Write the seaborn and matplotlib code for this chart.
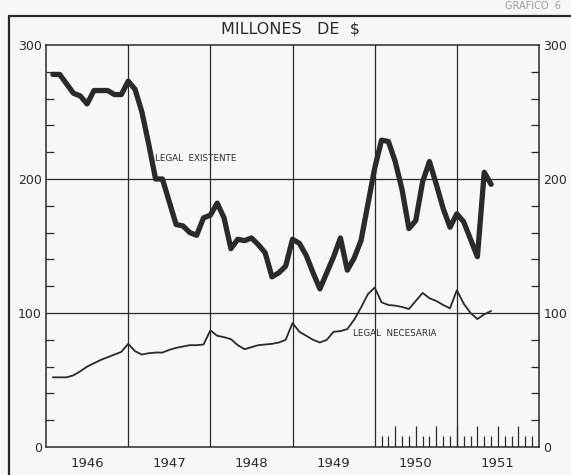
import numpy as np
import pandas as pd
import matplotlib
matplotlib.use('Agg')
import matplotlib.pyplot as plt
import seaborn as sns
from matplotlib.lines import Line2D

# monthly values, millions of $ (first point = Jan 1946)
existente = [278, 278, 271, 264, 262, 256, 266, 266, 266, 263, 263, 273,
             267, 250, 226, 200, 200, 183, 166, 165, 160, 158, 171, 173,
             182, 171, 148, 155, 154, 156, 151, 145, 127, 130, 135, 155,
             152, 143, 130, 118, 130, 142, 156, 132, 141, 154, 181, 208,
             229, 228, 213, 192, 163, 169, 198, 213, 196, 178, 164, 174,
             168, 155, 142, 205, 196]
necesaria = [52, 52, 52, 53.5, 56.5, 60, 62.5, 65, 67, 69, 71, 77,
             71.5, 69, 70, 70.5, 70.5, 72.5, 74, 75, 76, 76, 76.5, 87,
             83, 82, 80.5, 76, 73, 74.5, 76, 76.5, 77, 78, 80, 92.5,
             86, 83, 80, 78, 80, 86, 86.5, 88, 95, 104, 114, 119,
             108, 106, 105.5, 104.5, 103, 109, 115, 111, 109, 106, 103.5, 117,
             107, 100, 95.5, 99, 101.5]
years = [1946, 1947, 1948, 1949, 1950, 1951]
y_ticks = [0, 100, 200, 300]

ink = '#2a2a2a'
paper = '#f7f7f4'

sns.set_theme(style='white')
plt.rcParams['font.family'] = ['DejaVu Sans']

months = np.arange(1, len(existente) + 1)
df = pd.DataFrame({'t': years[0] + months / 12.0,
                   'existente': existente,
                   'necesaria': necesaria})

fig = plt.figure(figsize=(5.71, 4.75), dpi=100, facecolor=paper)
ax = fig.add_axes([0.0806, 0.0589, 0.8634, 0.8464])
ax.set_facecolor(paper)

# year boundaries and the 100 / 200 lines
for yr in years[1:]:
    ax.axvline(yr, color=ink, lw=0.9, zorder=1)
for v in y_ticks[1:-1]:
    ax.axhline(v, color=ink, lw=0.9, zorder=1)

sns.lineplot(x='t', y='existente', data=df, color=ink, lw=3.8, ax=ax, zorder=3,
             solid_joinstyle='round', solid_capstyle='round')
sns.lineplot(x='t', y='necesaria', data=df, color=ink, lw=1.3, ax=ax, zorder=3)

ax.set_xlim(years[0], years[-1] + 1)
ax.set_ylim(y_ticks[0], y_ticks[-1])
ax.set_xlabel('')
ax.set_ylabel('')

# year labels centred inside each year
ax.set_xticks([y + 0.5 for y in years])
ax.set_xticklabels([str(y) for y in years], fontsize=9.5, color=ink)
ax.tick_params(axis='x', length=0, pad=7)

ax.set_yticks(y_ticks)
ax.set_yticklabels([str(v) for v in y_ticks], fontsize=9, color=ink)
ax.set_yticks(np.arange(0, 301, 20), minor=True)
ax.tick_params(axis='y', which='major', length=0, pad=3, left=True, right=True,
               labelleft=True, labelright=True)
ax.tick_params(axis='y', which='minor', direction='in', length=6, width=0.9,
               color=ink, left=True, right=True)

for s in ax.spines.values():
    s.set_color(ink)
    s.set_linewidth(1.1)

# monthly scale marks along the bottom for 1950-51
scale_m = np.arange(1, 24)
scale_t = years[4] + scale_m / 12.0
scale_h = np.where(scale_m % 3 == 0, 16, 8)
ax.vlines(scale_t, 0, scale_h, color=ink, lw=0.9, zorder=2)

ax.text(1947.33, 215, 'LEGAL  EXISTENTE', fontsize=6.3, color=ink, va='center')
ax.text(1949.73, 85, 'LEGAL  NECESARIA', fontsize=6.3, color=ink, va='center')

fig.text(0.508, 0.94, 'MILLONES   DE  $', ha='center', va='center',
         fontsize=11.5, color=ink)
fig.text(0.885, 0.998, 'GRAFICO  6', ha='left', va='top', fontsize=7,
         color='#9a9a9a')

# outer frame of the printed page (left and top edges visible)
fig.add_artist(Line2D([9 / 571, 9 / 571], [0, 1 - 16 / 475], color=ink, lw=1.6,
                      transform=fig.transFigure))
fig.add_artist(Line2D([9 / 571, 1], [1 - 16 / 475, 1 - 16 / 475], color=ink,
                      lw=1.6, transform=fig.transFigure))

fig.savefig('out.png', dpi=100, facecolor=paper)
